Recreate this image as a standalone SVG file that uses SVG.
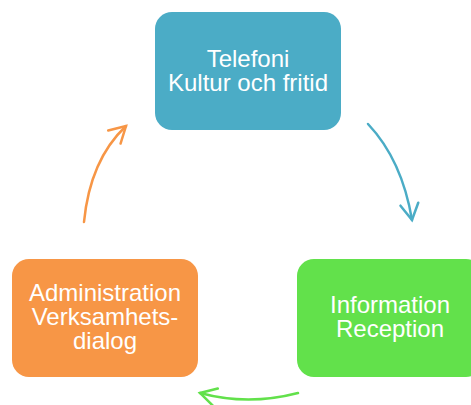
<svg xmlns="http://www.w3.org/2000/svg" width="471" height="405" viewBox="0 0 471 405">
  <style>
    .box { stroke: none; }
    .label { font-family: "Liberation Sans", Arial, sans-serif; font-size: 24px; fill: #ffffff; text-anchor: middle; }
    .arc { fill: none; stroke-width: 2.5; stroke-linecap: round; }
    .head { fill: none; stroke-width: 2.5; stroke-linecap: round; stroke-linejoin: miter; }
  </style>
  <defs>
    <marker id="head-blue" markerUnits="userSpaceOnUse" viewBox="-19 -12 22 24" markerWidth="22" markerHeight="24" refX="0" refY="0" orient="auto">
      <path class="head" d="M-16,-9 L0,0 L-16,9" stroke="#4BACC6"/>
    </marker>
    <marker id="head-green" markerUnits="userSpaceOnUse" viewBox="-19 -12 22 24" markerWidth="22" markerHeight="24" refX="0" refY="0" orient="auto">
      <path class="head" d="M-16,-9 L0,0 L-16,9" stroke="#62E14B"/>
    </marker>
    <marker id="head-orange" markerUnits="userSpaceOnUse" viewBox="-19 -12 22 24" markerWidth="22" markerHeight="24" refX="0" refY="0" orient="auto">
      <path class="head" d="M-16,-9 L0,0 L-16,9" stroke="#F79646"/>
    </marker>
  </defs>

  <rect width="471" height="405" fill="#ffffff"/>

  <g id="connectors">
    <path class="arc" d="M368,124 Q402,160 412,220" stroke="#4BACC6" marker-end="url(#head-blue)"/>
    <path class="arc" d="M298,393 Q248,406 200,393" stroke="#62E14B" marker-end="url(#head-green)"/>
    <path class="arc" d="M84,222 Q90,160 126,126" stroke="#F79646" marker-end="url(#head-orange)"/>
  </g>

  <g id="telefoni">
    <rect class="box" x="155" y="12" width="186" height="118" rx="17" fill="#4BACC6"/>
    <text class="label" x="248" y="67">Telefoni<tspan x="248" dy="24">Kultur och fritid</tspan></text>
  </g>

  <g id="information">
    <rect class="box" x="297" y="259" width="186" height="118" rx="17" fill="#62E14B"/>
    <text class="label" x="390" y="313">Information<tspan x="390" dy="24">Reception</tspan></text>
  </g>

  <g id="administration">
    <rect class="box" x="12" y="259" width="186" height="118" rx="17" fill="#F79646"/>
    <text class="label" x="105" y="301">Administration<tspan x="105" dy="24">Verksamhets-</tspan><tspan x="105" dy="24">dialog</tspan></text>
  </g>
</svg>
